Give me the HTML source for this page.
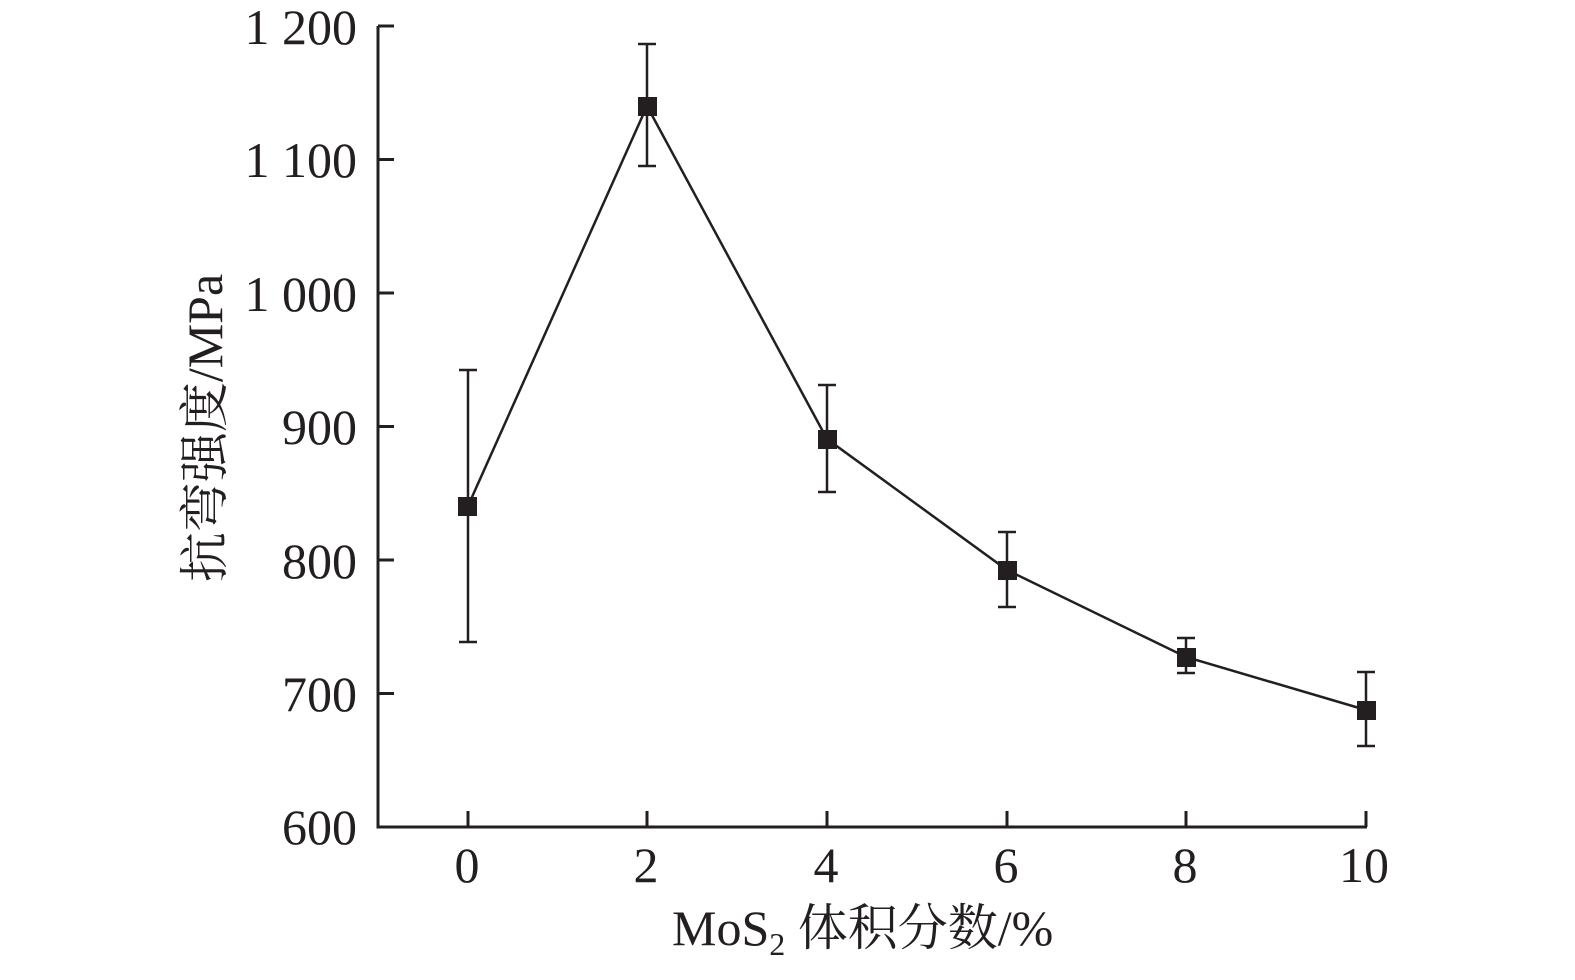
<!DOCTYPE html>
<html><head><meta charset="utf-8"><style>body{margin:0;background:#fff}</style></head>
<body>
<svg width="1575" height="975" xmlns="http://www.w3.org/2000/svg" font-family="'Liberation Serif','Noto Serif CJK SC',serif" fill="#231f20">
<g stroke="#231f20" stroke-width="3" fill="none">
<path d="M378,26 V827 H1367"/>
<path d="M378,26h16M378,159.5h16M378,293h16M378,426.5h16M378,560h16M378,693.5h16"/>
<path d="M468,827v-16M647,827v-16M827,827v-16M1007,827v-16M1186,827v-16M1366,827v-16"/>
</g>
<polyline points="468,506 647,106 827,439 1007,570 1186,657 1366,710" fill="none" stroke="#231f20" stroke-width="2.5"/>
<g stroke="#231f20" stroke-width="2.5">
<path d="M468,370V642M459,370h18M459,642h18"/>
<path d="M647,44V166M638,44h18M638,166h18"/>
<path d="M827,385V492M818,385h18M818,492h18"/>
<path d="M1007,532V607M998,532h18M998,607h18"/>
<path d="M1186,638V673M1177,638h18M1177,673h18"/>
<path d="M1366,672V746M1357,672h18M1357,746h18"/>
</g>
<g>
<rect x="458" y="497" width="19" height="19"/><rect x="638" y="97" width="19" height="19"/>
<rect x="818" y="430" width="19" height="19"/><rect x="998" y="561" width="19" height="19"/>
<rect x="1177" y="648" width="19" height="19"/><rect x="1357" y="701" width="19" height="19"/>
</g>
<g font-size="50" text-anchor="end">
<text x="357" y="44">1 200</text><text x="357" y="177">1 100</text><text x="357" y="311">1 000</text>
<text x="357" y="444">900</text><text x="357" y="578">800</text><text x="357" y="711">700</text><text x="357" y="844">600</text>
</g>
<g font-size="50" text-anchor="middle">
<text x="467" y="882">0</text><text x="646" y="882">2</text><text x="826" y="882">4</text>
<text x="1006" y="882">6</text><text x="1185" y="882">8</text><text x="1364" y="882">10</text>
</g>
<text x="672" y="945" font-size="50">MoS<tspan font-size="32" dy="10">2</tspan><tspan dy="-10"> 体积分数/%</tspan></text>
<text transform="translate(222,428) rotate(-90)" font-size="50" text-anchor="middle">抗弯强度/MPa</text>
</svg>
</body></html>
